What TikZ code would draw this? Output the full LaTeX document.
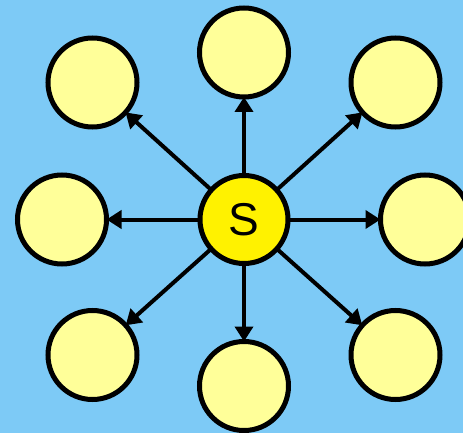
\documentclass[tikz,border=0pt]{standalone}
\usepackage{fontspec}
\setmainfont{Liberation Sans}
\usetikzlibrary{arrows.meta}
\definecolor{bgblue}{RGB}{125,202,246}
\definecolor{paleyellow}{RGB}{255,255,153}
\begin{document}
\begin{tikzpicture}[x=1pt,y=-1pt,
  outer/.style={circle,draw=black,line width=5pt,fill=paleyellow,minimum size=89pt,inner sep=0pt},
  center/.style={circle,draw=black,line width=5pt,fill=yellow,minimum size=88pt,inner sep=0pt,font=\fontsize{46}{46}\selectfont},
  link/.style={line width=4pt,-{Triangle[length=15pt,width=18pt]},shorten >=-2.5pt,shorten <=-1pt}]
\fill[bgblue] (0,0) rectangle (463,433);
\useasboundingbox (0,0) rectangle (463,433);
\node[center] (s) at (244,219.5) {S};
\node[outer] (n) at (244,52.5) {};
\node[outer] (nw) at (92.5,82.5) {};
\node[outer] (ne) at (395.5,82.5) {};
\node[outer] (w) at (62,219.5) {};
\node[outer] (e) at (425,219.5) {};
\node[outer] (sw) at (92.5,355) {};
\node[outer] (so) at (244,386) {};
\node[outer] (se) at (395.5,355) {};
\foreach \t in {n,nw,ne,w,e,sw,so,se}{
  \draw[link] (s) -- (\t);
}
\end{tikzpicture}
\end{document}
